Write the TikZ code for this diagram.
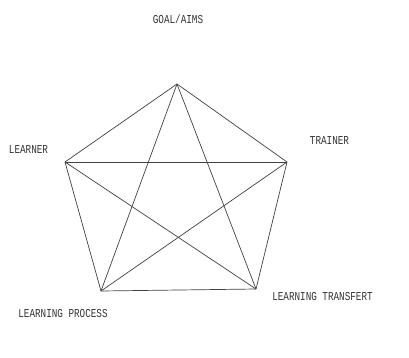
\documentclass[tikz,border=0pt]{standalone}
\usepackage{fontspec}
\newfontfamily\labelfont{Liberation Mono}
\begin{document}
\begin{tikzpicture}[x=1pt,y=-1pt,
  lbl/.style={font=\labelfont\fontsize{9.3}{10}\selectfont, inner sep=0pt, text=black!80, yscale=1.3},
  edge/.style={draw=black!75, line width=0.7pt}]
\useasboundingbox (0,0) rectangle (409,357);
\coordinate (G) at (177,84);
\coordinate (L) at (65,162);
\coordinate (T) at (287,162);
\coordinate (P) at (101,291);
\coordinate (F) at (256,289);
\draw[edge] (G) -- (L) -- (P) -- (F) -- (T) -- cycle;
\draw[edge] (G) -- (P);
\draw[edge] (G) -- (F);
\draw[edge] (L) -- (T);
\draw[edge] (L) -- (F);
\draw[edge] (T) -- (P);
\node[lbl] (g) at (178,19) {GOAL/AIMS};
\node[lbl] (l) at (28.5,150) {LEARNER};
\node[lbl] (t) at (329.5,141) {TRAINER};
\node[lbl] (p) at (63,314) {LEARNING PROCESS};
\node[lbl] (f) at (322.5,297) {LEARNING TRANSFERT};
\end{tikzpicture}
\end{document}
